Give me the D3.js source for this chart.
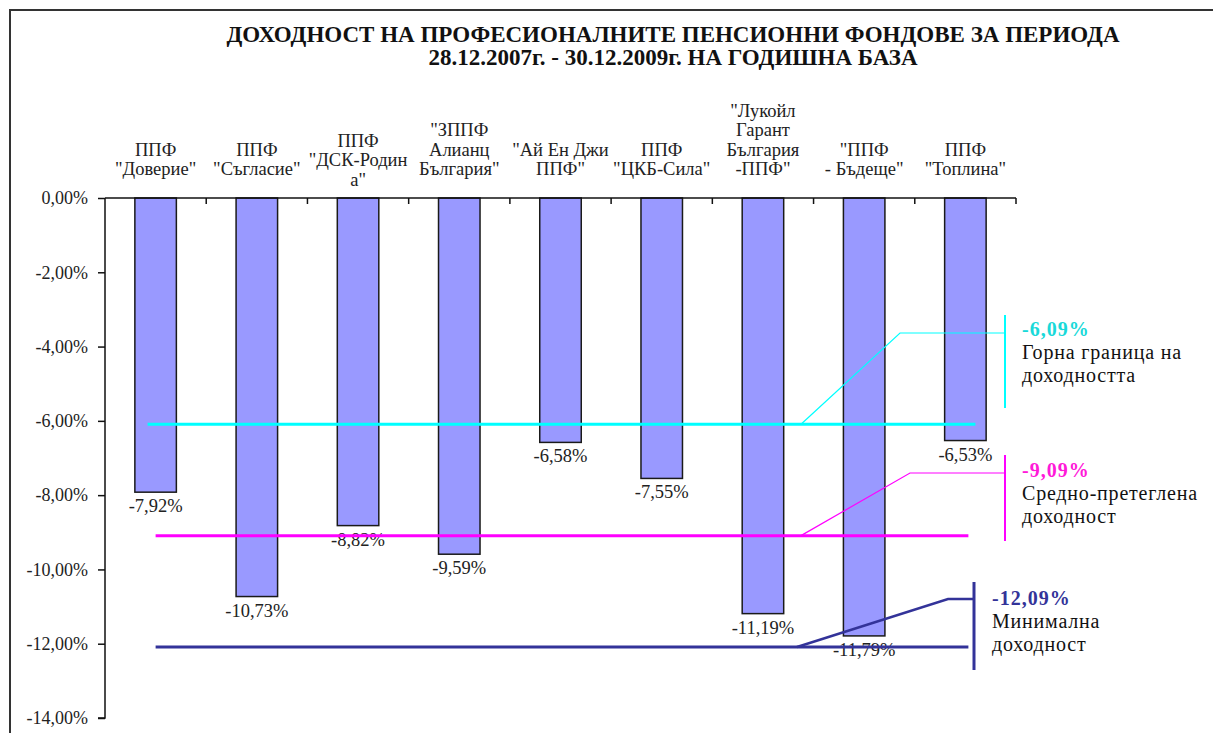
<!DOCTYPE html>
<html>
<head>
<meta charset="utf-8">
<script src="https://cdn.jsdelivr.net/npm/d3@7"></script>
<style>
  html, body { margin: 0; padding: 0; background: #fff; }
  svg text { font-family: "Liberation Serif", "DejaVu Serif", serif; }
</style>
</head>
<body>
<div id="chart"></div>
<script>
const titleLines = [
  "ДОХОДНОСТ НА ПРОФЕСИОНАЛНИТЕ ПЕНСИОННИ ФОНДОВЕ ЗА ПЕРИОДА",
  "28.12.2007г. - 30.12.2009г. НА ГОДИШНА БАЗА"
];

const funds = [
  { lines: ["ППФ", "\"Доверие\""] },
  { lines: ["ППФ", "\"Съгласие\""] },
  { lines: ["ППФ", "\"ДСК-Родин", "а\""], wrapped: true },
  { lines: ["\"ЗППФ", "Алианц", "България\""] },
  { lines: ["\"Ай Ен Джи", "ППФ\""] },
  { lines: ["ППФ", "\"ЦКБ-Сила\""] },
  { lines: ["\"Лукойл", "Гарант", "България", "-ППФ\""] },
  { lines: ["\"ППФ", "- Бъдеще\""] },
  { lines: ["ППФ", "\"Топлина\""] }
];

const returns = [-7.92, -10.73, -8.82, -9.59, -6.58, -7.55, -11.19, -11.79, -6.53];

const levels = [
  { key: "upper", value: -6.09, label: ["Горна граница на", "доходността"], color: "#00FFFF", text: "#19D9D9" },
  { key: "avg", value: -9.09, label: ["Средно-претеглена", "доходност"], color: "#FF00FF", text: "#FF19D9" },
  { key: "min", value: -12.09, label: ["Минимална", "доходност"], color: "#333399", text: "#333399" }
];

const yTicks = [0, -2, -4, -6, -8, -10, -12, -14];

const width = 1213;
const height = 733;
const margin = { top: 198, left: 105 };
const plotRight = 1016;
const plotBottom = 718;

const locale = d3.formatLocale({ decimal: ",", thousands: " ", grouping: [3], currency: ["", ""], minus: "-" });
const fmt = v => locale.format(".2f")(v) + "%";

const svg = d3.select("#chart")
  .append("svg")
  .attr("width", width)
  .attr("height", height);

// outer frame (cut off at the right and bottom)
svg.append("rect")
  .attr("x", 10)
  .attr("y", 10)
  .attr("width", 1400)
  .attr("height", 1000)
  .attr("fill", "none")
  .attr("stroke", "#333")
  .attr("stroke-width", 2);

svg.selectAll("text.title")
  .data(titleLines)
  .join("text")
  .attr("class", "title")
  .attr("x", 673)
  .attr("y", (d, i) => 42 + i * 23)
  .attr("text-anchor", "middle")
  .attr("font-size", 23)
  .attr("font-weight", 700)
  .attr("fill", "#111")
  .text(d => d);

const x = d3.scaleBand()
  .domain(d3.range(funds.length))
  .range([margin.left, plotRight]);

const y = d3.scaleLinear()
  .domain([0, -14])
  .range([margin.top, plotBottom]);

// y axis
svg.append("g")
  .attr("transform", `translate(${margin.left},0)`)
  .call(d3.axisLeft(y).tickValues(yTicks).tickSize(7).tickPadding(10).tickFormat(fmt))
  .call(g => g.attr("font-family", null))
  .call(g => g.select(".domain").attr("stroke", "#111").attr("stroke-width", 1.5).attr("d", `M-7,${plotBottom}H0V${margin.top}`))
  .call(g => g.selectAll(".tick line").attr("stroke", "#111").attr("stroke-width", 1.5))
  .call(g => g.selectAll(".tick text")
    .attr("font-size", 18)
    .attr("fill", "#222"));

// bars
const barW = x.bandwidth() * 0.41;
svg.selectAll("rect.bar")
  .data(returns)
  .join("rect")
  .attr("class", "bar")
  .attr("x", (d, i) => x(i) + (x.bandwidth() - barW) / 2)
  .attr("y", y(0))
  .attr("width", barW)
  .attr("height", d => y(d) - y(0))
  .attr("fill", "#9999FF")
  .attr("stroke", "#1a1a1a")
  .attr("stroke-width", 1.5);

// category axis on the zero line, ticks between categories
svg.append("path")
  .attr("d", `M${margin.left},${y(0)}H${plotRight}`)
  .attr("stroke", "#111")
  .attr("stroke-width", 1.5);

svg.append("g")
  .selectAll("line")
  .data(d3.range(1, funds.length + 1))
  .join("line")
  .attr("x1", i => i < funds.length ? x(i) : plotRight)
  .attr("x2", i => i < funds.length ? x(i) : plotRight)
  .attr("y1", y(0))
  .attr("y2", y(0) + 6)
  .attr("stroke", "#111")
  .attr("stroke-width", 1.5);

// category labels above the zero line
const lh = 19.5;
const labelBottom = 175;
svg.selectAll("text.cat")
  .data(funds)
  .join("text")
  .attr("class", "cat")
  .attr("text-anchor", "middle")
  .attr("font-size", 18.5)
  .attr("fill", "#222")
  .each(function (d, i) {
    const n = d.lines.length;
    const shift = d.wrapped ? lh * 0.55 : 0;
    const top = labelBottom - (n - 1) * lh + shift;
    d3.select(this).selectAll("tspan")
      .data(d.lines)
      .join("tspan")
      .attr("x", x(i) + x.bandwidth() / 2)
      .attr("y", (t, k) => top + k * lh)
      .text(t => t);
  });

// value labels
svg.selectAll("text.val")
  .data(returns)
  .join("text")
  .attr("class", "val")
  .attr("x", (d, i) => x(i) + x.bandwidth() / 2)
  .attr("y", d => y(d) + 20)
  .attr("text-anchor", "middle")
  .attr("font-size", 18.5)
  .attr("fill", "#222")
  .text(fmt);

// horizontal level lines
const firstX = x(0) + x.bandwidth() / 2;
const lastX = x(funds.length - 1) + x.bandwidth() / 2;
svg.selectAll("line.level")
  .data(levels)
  .join("line")
  .attr("class", "level")
  .attr("x1", d => d.key === "upper" ? firstX - 8 : firstX)
  .attr("x2", d => d.key === "upper" ? lastX + 10 : lastX + 3)
  .attr("y1", d => y(d.value))
  .attr("y2", d => y(d.value))
  .attr("stroke", d => d.color)
  .attr("stroke-width", 3);

// callouts: leader from the line, elbow, bracket, text
const callouts = {
  upper: { sx: 801, ex: 900, ey: 333, bx: 1005, b0: 315, b1: 408, tx: 1022, ty: 336, lw: 1.2, bw: 2 },
  avg: { sx: 801, ex: 910, ey: 473, bx: 1005, b0: 455, b1: 541, tx: 1022, ty: 477, lw: 1.2, bw: 2 },
  min: { sx: 797, ex: 948, ey: 599, bx: 974, b0: 582, b1: 670, tx: 992, ty: 605, lw: 2.5, bw: 3 }
};

const ann = svg.selectAll("g.callout")
  .data(levels)
  .join("g")
  .attr("class", "callout");

ann.append("path")
  .attr("fill", "none")
  .attr("stroke", d => d.color)
  .attr("stroke-width", d => callouts[d.key].lw)
  .attr("d", d => {
    const c = callouts[d.key];
    return `M${c.sx},${y(d.value)}L${c.ex},${c.ey}H${c.bx}`;
  });

ann.append("line")
  .attr("x1", d => callouts[d.key].bx)
  .attr("x2", d => callouts[d.key].bx)
  .attr("y1", d => callouts[d.key].b0)
  .attr("y2", d => callouts[d.key].b1)
  .attr("stroke", d => d.color)
  .attr("stroke-width", d => callouts[d.key].bw);

ann.append("text")
  .attr("x", d => callouts[d.key].tx)
  .attr("y", d => callouts[d.key].ty)
  .attr("font-size", 20)
  .attr("font-weight", 700)
  .attr("letter-spacing", 1)
  .attr("fill", d => d.text)
  .text(d => fmt(d.value));

ann.append("text")
  .attr("font-size", 20)
  .attr("letter-spacing", 0.8)
  .attr("fill", "#111")
  .each(function (d) {
    const c = callouts[d.key];
    d3.select(this).selectAll("tspan")
      .data(d.label)
      .join("tspan")
      .attr("x", c.tx)
      .attr("y", (t, k) => c.ty + 23 * (k + 1))
      .text(t => t);
  });
</script>
</body>
</html>
